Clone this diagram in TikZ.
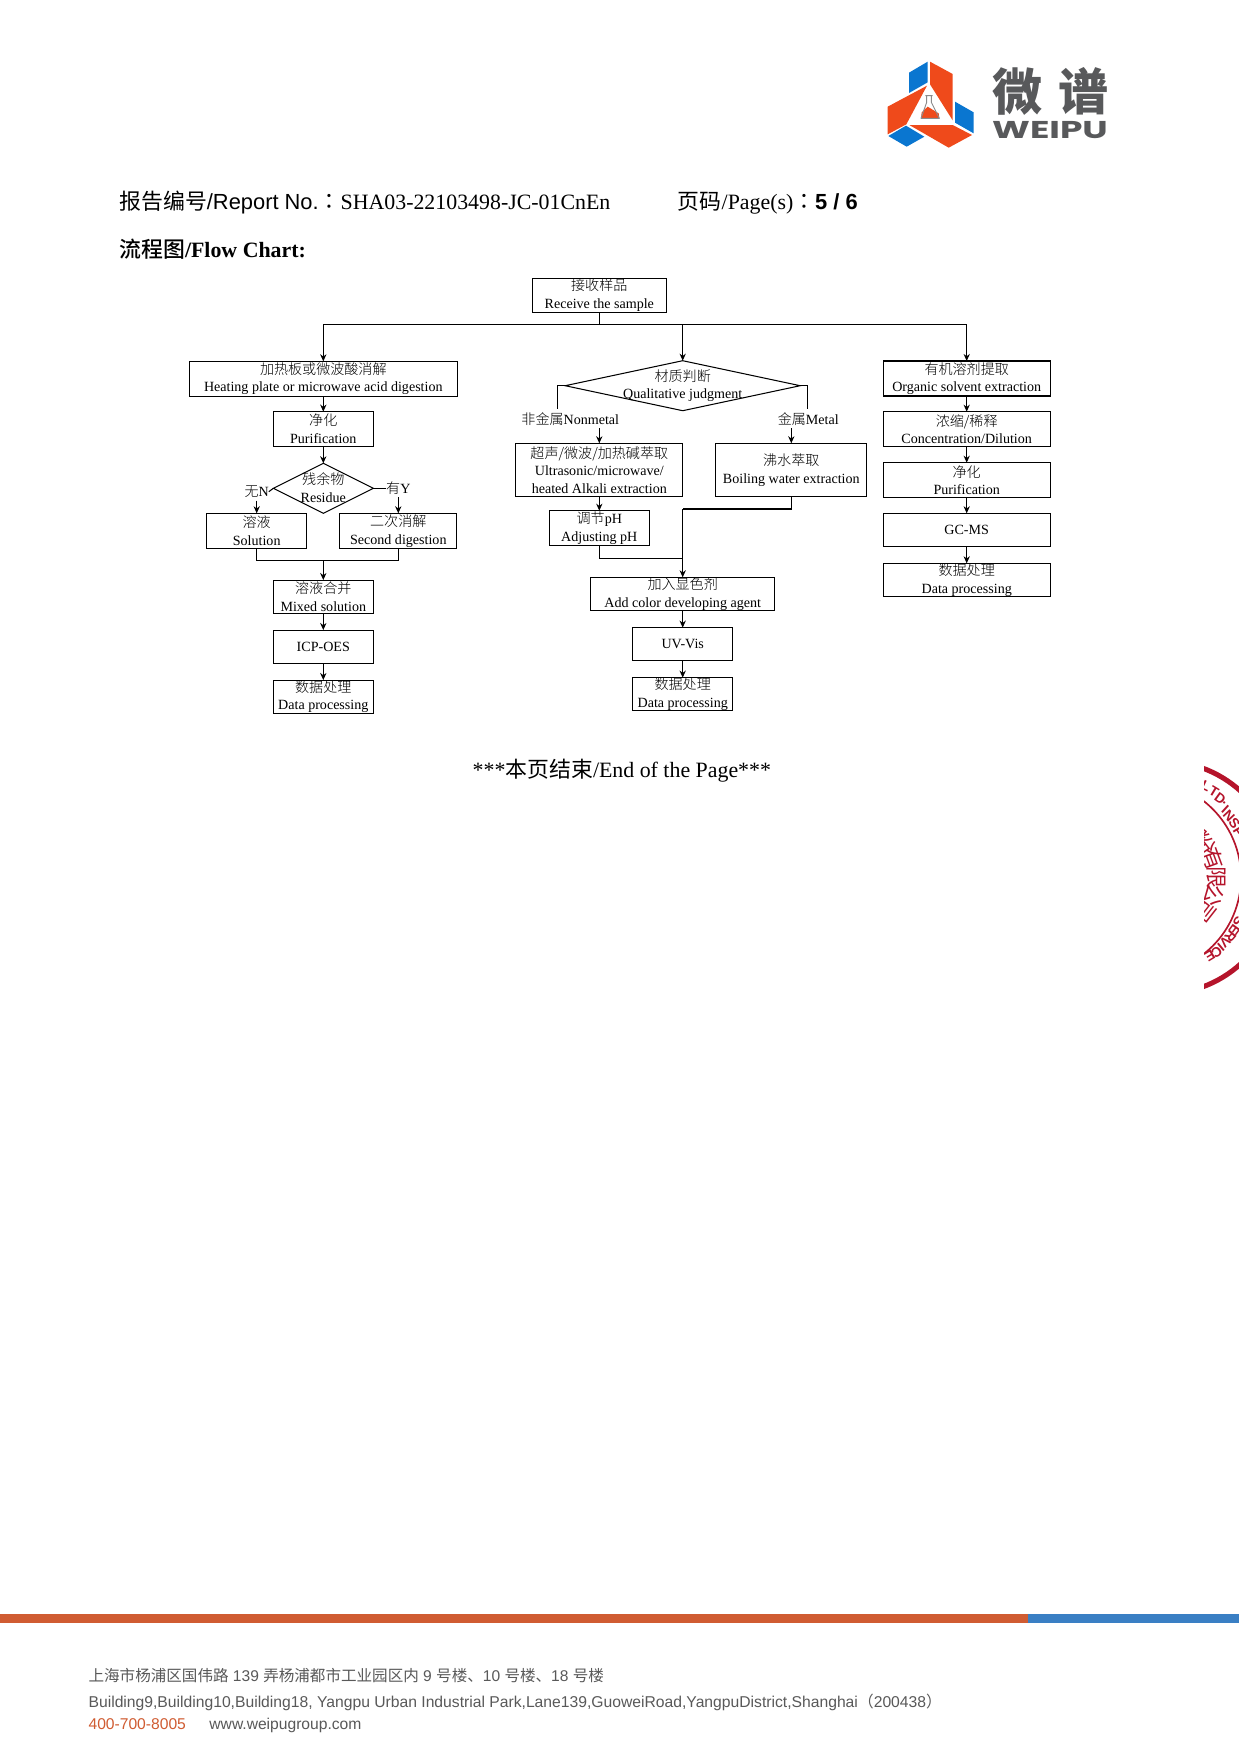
\documentclass[tikz,border=0pt]{standalone}
\usepackage{fontspec}
\usepackage{graphicx}
\usetikzlibrary{arrows.meta,shapes.geometric}
\setmainfont{Liberation Serif}
\setsansfont{Liberation Sans}
\newfontfamily\cjk{Noto Sans CJK SC}
\newfontfamily\cjkl{Noto Sans CJK SC Light}
\newfontfamily\cjkm{Noto Sans CJK SC Medium}
\newfontfamily\cjkt{Noto Sans CJK TC}
\newfontfamily\popp{Poppins}
\newcommand{\zh}[1]{{\cjkl #1}}
\newcommand{\zhr}[1]{{\cjk #1}}
\newcommand{\zhcolon}{{\cjkt ：}}
\definecolor{sealred}{HTML}{B5142B}
\definecolor{logoor}{HTML}{EF4A1B}
\definecolor{logobl}{HTML}{0A76D0}
\definecolor{logogr}{HTML}{58595B}
\definecolor{footgr}{HTML}{595959}
\definecolor{baror}{HTML}{D05C32}
\definecolor{barbl}{HTML}{3A7FC4}
\tikzset{
  x=0.48pt,y=-0.48pt,
  every node/.style={inner sep=0pt,outer sep=0pt},
  flowtext/.style={font=\fontsize{6.75}{8.5}\selectfont,align=center},
  fbox/.style args={#1 and #2}{flowtext,draw=black,line width=0.5pt,rectangle,minimum width=#1*0.48pt,minimum height=#2*0.48pt},
  fdia/.style args={#1 and #2}{draw=black,line width=0.5pt,diamond,minimum width=#1*0.48pt,minimum height=#2*0.48pt},
  lab/.style={flowtext,minimum height=8.64pt},
  conn/.style={draw=black,line width=0.5pt},
  arr/.style={conn,-{Stealth[length=3.4pt,width=3pt]}},
  headtext/.style={anchor=base west,font=\fontsize{10.5}{12}\selectfont},
  foottext/.style={anchor=base west,font=\fontsize{7.5}{9}\selectfont\sffamily,text=footgr},
  sealch/.style={text=sealred,font=\fontsize{10.5}{11}\selectfont\cjk},
  sealen/.style={text=sealred,font=\fontsize{6.6}{7}\selectfont\sffamily\bfseries},
}
\begin{document}
\begin{tikzpicture}
\useasboundingbox (0,0) rectangle (1239,1754);
\fill[white] (0,0) rectangle (1239,1754);

% logo
\begin{scope}[shift={(881,55)},x=0.16pt,y=-0.16pt]
\fill[logobl] (84,53)--(140,20)--(140,82)--(84,114)--cycle;
\fill[logobl] (222,140)--(278,172)--(278,235)--(222,203)--cycle;
\fill[logobl] (22,243)--(75,212)--(130,245)--(77,275)--cycle;
\fill[logoor] (147,20)--(215,57)--(215,196)--(147,88)--cycle;
\fill[logoor] (20,155)--(138,92)--(76,208)--(20,238)--cycle;
\fill[logoor] (85,210)--(215,210)--(273,240)--(203,278)--cycle;
\fill[logoor] (122,172)--(140,155)--(173,175)--(175,190)--(120,190)--cycle;
\draw[draw=logogr!70,line width=0.45pt,line join=round] (133,122)--(155,122) (137,122)--(137,142)--(120,190)--(175,190)--(151,142)--(151,122);
\end{scope}
\node[font=\fontsize{24}{26}\selectfont\cjk\bfseries,text=logogr,anchor=center] (logozh) at (1050.5,91.5) {微\hspace{7.5pt}谱};
\node[text=logogr,anchor=center] (logoen) at (1050,130.5) {\resizebox{55.5pt}{8.2pt}{\popp\bfseries WEIPU}};

% header
\node[headtext] (report) at (119.4,209.3) {\zhr{报告编号}\textsf{/Report No.}\zhcolon SHA03-22103498-JC-01CnEn\hspace{32.4pt}\zhr{页码}/Page(s)\zhcolon\textsf{\bfseries 5 / 6}};
\node[headtext] (flowt) at (119.4,257.7) {{\cjkm 流程图}\textbf{/Flow Chart:}};

% flow chart
\node[fbox=133.7 and 33.7] (recv) at (599.3,295.2) {\zh{接收样品}\\Receive the sample};
\coordinate (bus) at (599.3,324.3);

\node[fbox=268 and 34.7] (heat) at (323.3,378.7) {\zh{加热板或微波酸消解}\\Heating plate or microwave acid digestion};
\node[fbox=100 and 34.7] (puri) at (323.3,429) {\zh{净化}\\Purification};
\node[fdia=100 and 50,shape aspect=2] (res) at (323.3,488.3) {};
\node[flowtext] (restx) at (323.3,487.3) {\zh{残余物}\\Residue};
\node[lab] (labn) at (256.7,491.7) {\zh{无}N};
\node[lab] (laby) at (398.3,488.3) {\zh{有}Y};
\node[fbox=100 and 35] (sol) at (256.7,530.8) {\zh{溶液}\\Solution};
\node[fbox=116.7 and 35] (sec) at (398.3,530.8) {\zh{二次消解}\\Second digestion};
\coordinate (mergel) at (323.3,560.7);
\node[fbox=100 and 33.3] (mix) at (323.3,596.7) {\zh{溶液合并}\\Mixed solution};
\node[fbox=100 and 33.3] (icp) at (323.3,646.7) {ICP-OES};
\node[fbox=100 and 33.3] (dat1) at (323.3,696.7) {\zh{数据处理}\\Data processing};

\node[fdia=235 and 50,shape aspect=4.7] (qual) at (682.7,385.7) {};
\node[flowtext] (qualtx) at (682.7,385.7) {\zh{材质判断}\\Qualitative judgment};
\coordinate (nmk) at (557.7,409);
\coordinate (mek) at (807.7,409);
\node[lab] (labnm) at (570.3,419) {\zh{非金属}Nonmetal};
\node[lab] (labme) at (808.3,419) {\zh{金属}Metal};
\coordinate (nmst) at (599.3,428.3);
\coordinate (mest) at (791.3,428.3);
\node[fbox=167.3 and 53.4] (ultra) at (599.3,470) {\zh{超声/微波/加热碱萃取}\\Ultrasonic/microwave/\\heated Alkali extraction};
\node[fbox=150.7 and 53.4] (boil) at (791.3,470) {\zh{沸水萃取}\\Boiling water extraction};
\node[fbox=100 and 35] (adj) at (599.3,528.2) {\zh{调节}pH\\Adjusting pH};
\coordinate (j1) at (682.7,509);
\coordinate (j2) at (682.7,558.3);
\node[fbox=184.3 and 33.4] (add) at (682.7,594) {\zh{加入显色剂}\\Add color developing agent};
\node[fbox=100 and 33.3] (uv) at (682.7,644.3) {UV-Vis};
\node[fbox=100 and 33.3] (dat2) at (682.7,694.3) {\zh{数据处理}\\Data processing};

\node[fbox=166.7 and 35] (org) at (966.7,378.5) {\zh{有机溶剂提取}\\Organic solvent extraction};
\node[fbox=166.7 and 35] (conc) at (966.7,429.2) {\zh{浓缩/稀释}\\Concentration/Dilution};
\node[fbox=166.7 and 35] (pur3) at (966.7,480.2) {\zh{净化}\\Purification};
\node[fbox=166.7 and 33.4] (gc) at (966.7,530) {GC-MS};
\node[fbox=166.7 and 33.4] (dat3) at (966.7,580) {\zh{数据处理}\\Data processing};

% connectors
\draw[conn] (recv.south) -- (bus);
\draw[arr] (bus) -| (heat.north);
\draw[arr] (bus) -| (org.north);
\draw[arr] (bus -| qual.north) -- (qual.north);
\draw[arr] (heat.south) -- (puri.north);
\draw[arr] (puri.south) -- (res.north);
\draw[conn] (res.west) -- (labn.east);
\draw[conn] (res.east) -- (laby.west);
\draw[arr] (labn.south) -- (sol.north);
\draw[arr] (laby.south) -- (sec.north);
\draw[conn] (sol.south) |- (mergel);
\draw[conn] (sec.south) |- (mergel);
\draw[arr] (mergel) -- (mix.north);
\draw[arr] (mix.south) -- (icp.north);
\draw[arr] (icp.south) -- (dat1.north);
\draw[conn] (qual.west) -| (nmk);
\draw[conn] (qual.east) -| (mek);
\draw[arr] (nmst) -- (ultra.north);
\draw[arr] (mest) -- (boil.north);
\draw[arr] (ultra.south) -- (adj.north);
\draw[conn] (boil.south) |- (j1);
\draw[conn] (adj.south) |- (j2);
\draw[arr] (j1) -- (add.north);
\draw[arr] (add.south) -- (uv.north);
\draw[arr] (uv.south) -- (dat2.north);
\draw[arr] (org.south) -- (conc.north);
\draw[arr] (conc.south) -- (pur3.north);
\draw[arr] (pur3.south) -- (gc.north);
\draw[arr] (gc.south) -- (dat3.north);

% end of page
\node[headtext] (endp) at (472.7,777.3) {***\zhr{本页结束}/End of the Page***};

% seal
\begin{scope}
\clip (1204,740) rectangle (1239,1010);
\draw[sealred,line width=2.4pt] (1162.5,877.5) circle[radius=116.5];
\draw[sealred,line width=0.8pt] (1144,877.5) circle[radius=97];
\foreach \c/\a/\r in {L/-64.5/101,T/-59/100,D/-54/98,./-50.5/97,I/-47.5/93,N/-43/91,S/-37/90,P/-31/89,S/30/88,E/36/89,R/41/90,V/46/90,I/50/91,C/54/92,E/59/92}
  \node[sealen,rotate=-90-\a] at ({1162.5+\r*cos(\a)},{877.5+\r*sin(\a)}) {\c};
\foreach \c/\a in {股/-52,份/-38,有/-20,限/0,公/20,司/38}
  \node[sealch,rotate=-90-\a] at ({1162.5+54*cos(\a)},{877.5+54*sin(\a)}) {\c};
\end{scope}

% footer bar
\fill[baror] (0,1614) rectangle (1028.4,1623.3);
\fill[barbl] (1028.4,1614) rectangle (1239,1623.3);
\node[foottext,font=\fontsize{7.47}{9}\selectfont\sffamily] (addrzh) at (88.6,1681) {\zhr{上海市杨浦区国伟路} 139 \zhr{弄杨浦都市工业园区内} 9 \zhr{号楼、}10 \zhr{号楼、}18 \zhr{号楼}};
\node[foottext,font=\fontsize{7.53}{9}\selectfont\sffamily] (addren) at (88.6,1707.3) {Building9,Building10,Building18, Yangpu Urban Industrial Park,Lane139,GuoweiRoad,YangpuDistrict,Shanghai\zhr{（}200438\zhr{）}};
\node[foottext] (contact) at (88.6,1729) {\textcolor{baror}{400-700-8005}\hspace{11.3pt}www.weipugroup.com};
\end{tikzpicture}
\end{document}
